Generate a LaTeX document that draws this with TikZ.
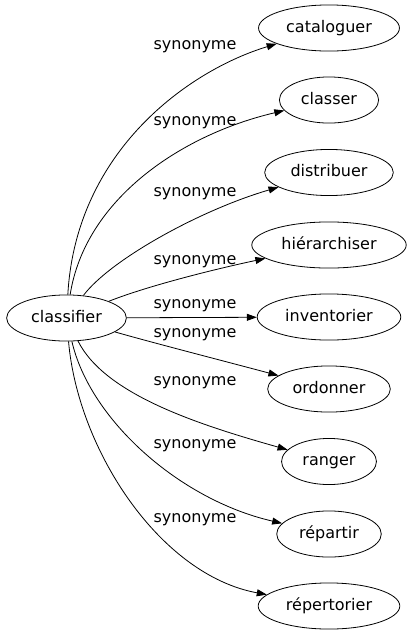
\documentclass[tikz,border=0pt]{standalone}
\usepackage{fontspec}
\setmainfont{DejaVu Sans}
\usetikzlibrary{shapes.geometric,arrows.meta}
\begin{document}
\begin{tikzpicture}[x=1pt,y=-1pt,
  word/.style={ellipse, draw, line width=0.8pt, inner xsep=7pt, inner ysep=8.3pt,
    text height=12pt, text depth=4pt, font=\fontsize{16}{19}\selectfont},
  syn/.style={font=\fontsize{16}{19}\selectfont, inner sep=0pt},
  link/.style={line width=0.8pt, -{Triangle[length=10pt,width=7pt]}}]
\useasboundingbox (0,0) rectangle (410,635);
\node[word] (cl) at (66.5,318) {classifier};
\node[word] (n1) at (329,28) {cataloguer};
\node[word] (n2) at (329,100) {classer};
\node[word] (n3) at (329,172.5) {distribuer};
\node[word] (n4) at (329,245) {hiérarchiser};
\node[word] (n5) at (329,317) {inventorier};
\node[word] (n6) at (329,389) {ordonner};
\node[word] (n7) at (329,461.5) {ranger};
\node[word] (n8) at (329,534) {répartir};
\node[word] (n9) at (329,606) {répertorier};
\draw[link] (cl) .. controls (76,150) and (190,70) .. (n1);
\draw[link] (cl) .. controls (85,200) and (180,135) .. (n2);
\draw[link] (cl) .. controls (110,260) and (200,210) .. (n3);
\draw[link] (cl) .. controls (150,285) and (220,268) .. (n4);
\draw[link] (cl) -- (n5);
\draw[link] (cl) .. controls (150,342) and (220,360) .. (n6);
\draw[link] (cl) .. controls (105,395) and (200,425) .. (n7);
\draw[link] (cl) .. controls (90,420) and (180,500) .. (n8);
\draw[link] (cl) .. controls (78,450) and (160,575) .. (n9);
\node[syn] (l1) at (195,47) {synonyme};
\node[syn] (l2) at (195,123) {synonyme};
\node[syn] (l3) at (195,194) {synonyme};
\node[syn] (l4) at (195,262) {synonyme};
\node[syn] (l5) at (195,306) {synonyme};
\node[syn] (l6) at (195,335) {synonyme};
\node[syn] (l7) at (195,383) {synonyme};
\node[syn] (l8) at (195,446) {synonyme};
\node[syn] (l9) at (195,520) {synonyme};
\end{tikzpicture}
\end{document}
